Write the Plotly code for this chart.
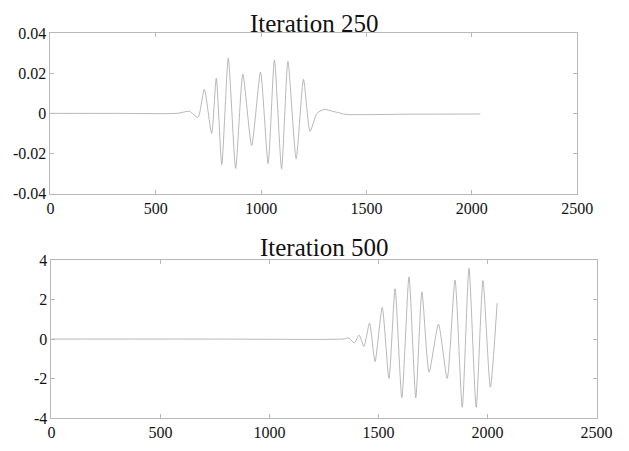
import plotly.graph_objects as go

# ---- data ----
# Iteration 250 (top panel): key points of the signal (x, amplitude)
x_250 = [0, 300, 600, 660, 700, 730, 765, 787, 813, 844, 879, 913, 955, 997,
         1033, 1063, 1097, 1127, 1166, 1201, 1232, 1265, 1300, 1340, 1370,
         1400, 1700, 2040]
y_250 = [0.0, 0.0, 0.0, 0.001, -0.002, 0.012, -0.010, 0.0175, -0.0255, 0.0275,
         -0.0274, 0.0195, -0.016, 0.0205, -0.0250, 0.0265, -0.0276, 0.0260,
         -0.0226, 0.0170, -0.0090, 0.0, 0.002, 0.001, 0.0003, -0.0005,
         -0.0004, -0.0003]

# Iteration 500 (bottom panel)
x_500 = [0, 700, 1337, 1365, 1389, 1411, 1433, 1459, 1484, 1517, 1548, 1576,
         1607, 1640, 1671, 1699, 1732, 1775, 1815, 1851, 1884, 1915, 1948,
         1979, 2013, 2044]
y_500 = [0.0, 0.0, 0.0, 0.05, -0.2, 0.2, -0.37, 0.81, -1.14, 1.61, -2.0, 2.55,
         -2.98, 3.15, -2.98, 2.39, -1.68, 0.75, -2.0, 2.99, -3.46, 3.58, -3.46,
         2.96, -2.44, 1.82]

x_ticks = [0, 500, 1000, 1500, 2000, 2500]
y_ticks_250 = [-0.04, -0.02, 0, 0.02, 0.04]
y_labels_250 = ["-0.04", "-0.02", "0", "0.02", "0.04"]
y_ticks_500 = [-4, -2, 0, 2, 4]
y_labels_500 = ["-4", "-2", "0", "2", "4"]
titles = ["Iteration 250", "Iteration 500"]

W, H = 629, 451
FONT = "Liberation Serif, Times New Roman, serif"
LINE = "#a6a6a6"
FRAME = "#b8b8b8"

fig = go.Figure()
fig.add_trace(go.Scatter(x=x_250, y=y_250, mode="lines", xaxis="x", yaxis="y",
                         line=dict(color=LINE, width=0.8, shape="spline", smoothing=0.6),
                         showlegend=False, hoverinfo="skip"))
fig.add_trace(go.Scatter(x=x_500, y=y_500, mode="lines", xaxis="x2", yaxis="y2",
                         line=dict(color=LINE, width=0.8, shape="spline", smoothing=0.6),
                         showlegend=False, hoverinfo="skip"))

def px_x(a, b):
    return [a / W, b / W]

def px_y(top, bottom):
    return [1 - bottom / H, 1 - top / H]

axis_common = dict(showgrid=False, zeroline=False, showline=True, linecolor=FRAME,
                   linewidth=1, mirror="ticks", ticks="inside", ticklen=4,
                   tickcolor=FRAME, tickfont=dict(family=FONT, size=16, color="#111111"))

fig.update_layout(
    width=W, height=H, margin=dict(l=0, r=0, t=0, b=0),
    paper_bgcolor="white", plot_bgcolor="white", showlegend=False,
    xaxis=dict(domain=px_x(48, 592), range=[0, 2500], tickvals=x_ticks,
               anchor="y", **axis_common),
    yaxis=dict(domain=px_y(26, 193), range=[-0.04, 0.04], tickvals=y_ticks_250,
               ticktext=y_labels_250, anchor="x", **axis_common),
    xaxis2=dict(domain=px_x(49, 612), range=[0, 2500], tickvals=x_ticks,
                anchor="y2", **axis_common),
    yaxis2=dict(domain=px_y(262, 426), range=[-4, 4], tickvals=y_ticks_500,
                ticktext=y_labels_500, anchor="x2", **axis_common),
    annotations=[
        dict(text=titles[0], x=320 / W, y=1 - 16 / H, xref="paper", yref="paper",
             showarrow=False, xanchor="center", yanchor="middle",
             font=dict(family=FONT, size=25, color="#111")),
        dict(text=titles[1], x=331 / W, y=1 - 249 / H, xref="paper", yref="paper",
             showarrow=False, xanchor="center", yanchor="middle",
             font=dict(family=FONT, size=25, color="#111")),
    ],
)

fig.write_html("out.html")
